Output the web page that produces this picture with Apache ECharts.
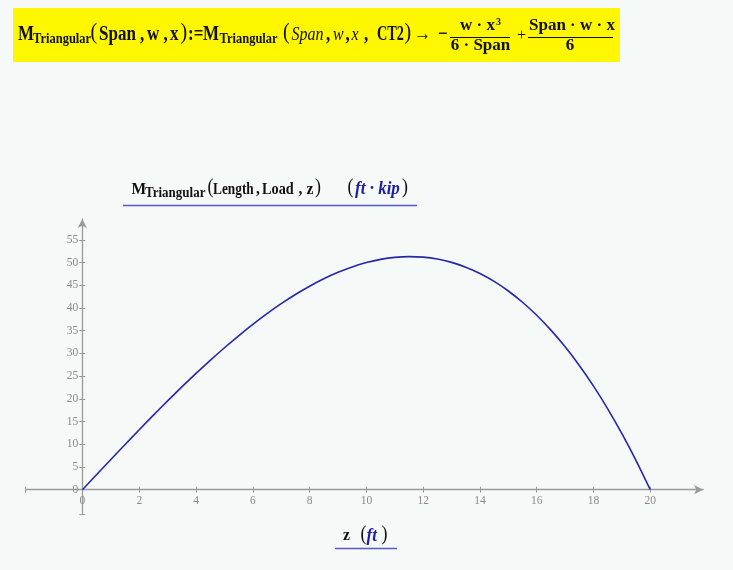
<!DOCTYPE html>
<html><head><meta charset="utf-8">
<script src="https://cdn.jsdelivr.net/npm/echarts@6/dist/echarts.min.js"></script>
<style>html,body{margin:0;padding:0;background:#f5f9f7}#c{width:733px;height:570px}</style>
</head><body><div id="c"></div>
<script>
// z in ft
const zValues = [0,0.5,1,1.5,2,2.5,3,3.5,4,4.5,5,5.5,6,6.5,7,7.5,8,8.5,9,9.5,10,10.5,11,11.5,12,12.5,13,13.5,14,14.5,15,15.5,16,16.5,17,17.5,18,18.5,19,19.5,20];
// M_Triangular (ft*kip)
const momentValues = [0,3.33,6.65,9.94,13.2,16.41,19.55,22.62,25.6,28.48,31.25,33.89,36.4,38.76,40.95,42.97,44.8,46.43,47.85,49.04,50,50.71,51.15,51.32,51.2,50.78,50.05,48.99,47.6,45.86,43.75,41.27,38.4,35.13,31.45,27.34,22.8,17.81,12.35,6.42,0];
const xTickValues = [-2,0,2,4,6,8,10,12,14,16,18,20];
const xLabelValues = [0,2,4,6,8,10,12,14,16,18,20];
const yTickValues = [-5.4,0,5,10,15,20,25,30,35,40,45,50,55];
const yLabelValues = [0,5,10,15,20,25,30,35,40,45,50,55];

const SERIF = '"Liberation Serif", "DejaVu Serif", serif';
const axisColor = '#9a9a9a';
const labelColor = '#8a8a8a';

const chart = echarts.init(document.getElementById('c'));
const xMin = -2, xMax = 21.86, yMin = -5.4, yMax = 59.6;

function xAxisDef(pos, main, offset) {
  return {
    type: 'value', min: xMin, max: xMax, position: pos, offset: offset,
    axisLine: { show: true, onZero: false,
      symbol: main ? ['none', 'arrow'] : ['none', 'none'], symbolSize: [7, 9],
      lineStyle: { color: axisColor, width: 1.3, opacity: main ? 1 : 0 } },
    axisTick: { show: true, customValues: xTickValues, length: 3, lineStyle: { color: axisColor, width: 1 } },
    axisLabel: { show: main, customValues: xLabelValues, margin: 5, color: labelColor, fontFamily: SERIF, fontSize: 11.5 },
    splitLine: { show: false }
  };
}
function yAxisDef(pos, main, offset) {
  return {
    type: 'value', min: yMin, max: yMax, position: pos, offset: offset,
    axisLine: { show: true, onZero: false,
      symbol: main ? ['none', 'arrow'] : ['none', 'none'], symbolSize: [7, 9],
      lineStyle: { color: axisColor, width: 1.3, opacity: main ? 1 : 0 } },
    axisTick: { show: true, customValues: yTickValues, length: 3, lineStyle: { color: axisColor, width: 1 } },
    axisLabel: { show: main, customValues: yLabelValues, margin: 4, color: labelColor, fontFamily: SERIF, fontSize: 11.5 },
    splitLine: { show: false }
  };
}

// text helper for formula pieces (positions are layout, not data)
function txt(x, y, text, o) {
  o = o || {};
  const fs = o.fs || 17;
  const font = (o.italic ? 'italic ' : '') + (o.normal ? '' : 'bold ') + fs + 'px ' + SERIF;
  return {
    type: 'text', x: x, y: y, scaleY: o.sy || 1, scaleX: o.sx || 1, originX: 0, originY: 0, z: 10,
    style: { text: text, font: font, fill: o.color || '#111', align: o.align || 'left', verticalAlign: 'middle' }
  };
}
const HS = 1.2;   // header vertical stretch
const hy = 35.0, hsub = 39.3, hpar = 32.7;
const TS = 1.13;  // title vertical stretch
const ty = 189.2, tsub = 193.2, tpar = 188;
const blue = '#1e1e9e';

const graphic = [
  { type: 'rect', shape: { x: 13, y: 8, width: 607, height: 54 }, style: { fill: '#fff700' }, z: 0 },
  // left side
  txt(18, hy, 'M', { sy: HS }),
  txt(33, hsub, 'Triangular', { fs: 12.5, sy: HS }),
  txt(90.5, hpar, '(', { fs: 20, sy: HS, normal: true }),
  txt(99, hy, 'Span', { sy: HS }),
  txt(140, hy, ',', { sy: HS }),
  txt(147, hy, 'w', { sy: HS }),
  txt(163.5, hy, ',', { sy: HS }),
  txt(170, hy, 'x', { sy: HS }),
  txt(180.5, hpar, ')', { fs: 20, sy: HS, normal: true }),
  txt(188, hy, ':=', { sy: HS }),
  txt(203, hy, 'M', { sy: HS }),
  txt(219.5, hsub, 'Triangular', { fs: 12.5, sy: HS }),
  txt(283, hpar, '(', { fs: 20, sy: HS, normal: true }),
  txt(291.5, hy, 'Span', { sy: HS, italic: true, normal: true, fs: 16 }),
  txt(326, hy, ',', { sy: HS }),
  txt(333, hy, 'w', { sy: HS, italic: true, normal: true, fs: 16 }),
  txt(345.5, hy, ',', { sy: HS }),
  txt(351.5, hy, 'x', { sy: HS, italic: true, normal: true, fs: 16 }),
  txt(364, hy, ',', { sy: HS }),
  txt(377, hy, 'CT2', { sy: HS, sx: 0.84 }),
  txt(404.5, hpar, ')', { fs: 20, sy: HS, normal: true }),
  txt(414, hy, '→', { fs: 17, sy: HS }),
  txt(438, hy, '−', { sy: HS }),
  // fraction 1
  txt(460, 26.1, 'w · x'),
  txt(496, 22, '3', { fs: 10 }),
  { type: 'line', shape: { x1: 450, y1: 37.5, x2: 510, y2: 37.5 }, style: { stroke: '#111', lineWidth: 1 }, z: 10 },
  txt(480.5, 46.1, '6 · Span', { align: 'center' }),
  txt(521.5, 35.6, '+', { fs: 16, normal: true, align: 'center' }),
  // fraction 2
  txt(572, 26.1, 'Span · w · x', { align: 'center' }),
  { type: 'line', shape: { x1: 528, y1: 37.5, x2: 613, y2: 37.5 }, style: { stroke: '#111', lineWidth: 1 }, z: 10 },
  txt(570, 46.1, '6', { align: 'center' }),

  // plot title
  txt(131.5, ty, 'M', { fs: 15.5, sy: TS }),
  txt(145, tsub, 'Triangular', { fs: 13, sy: TS }),
  txt(207.5, tpar, '(', { fs: 18, sy: TS, normal: true }),
  txt(213, ty, 'Length', { fs: 15.5, sy: TS, sx: 0.86 }),
  txt(256, ty, ',', { fs: 15.5, sy: TS }),
  txt(262, ty, 'Load', { fs: 15.5, sy: TS, sx: 0.92 }),
  txt(298.5, ty, ',', { fs: 15.5, sy: TS }),
  txt(306.5, ty, 'z', { fs: 15.5, sy: TS }),
  txt(315, tpar, ')', { fs: 18, sy: TS, normal: true }),
  txt(347.5, tpar, '(', { fs: 18, sy: TS, normal: true }),
  txt(355, ty, 'ft · kip', { fs: 17, sy: TS, italic: true, color: blue }),
  txt(402, tpar, ')', { fs: 18, sy: TS, normal: true }),
  { type: 'line', shape: { x1: 123, y1: 205.5, x2: 417, y2: 205.5 }, style: { stroke: '#5858c8', lineWidth: 1.6 }, z: 10 },

  // x axis title
  txt(343, 535.9, 'z', { fs: 15.5, sy: TS }),
  txt(360.5, 534.6, '(', { fs: 18, sy: TS, normal: true }),
  txt(366.5, 535.9, 'ft', { fs: 17, sy: TS, italic: true, color: blue }),
  txt(381.5, 534.6, ')', { fs: 18, sy: TS, normal: true }),
  { type: 'line', shape: { x1: 335, y1: 548.5, x2: 397, y2: 548.5 }, style: { stroke: '#5858c8', lineWidth: 1.6 }, z: 10 }
];

const option = {
  backgroundColor: '#f5f9f7',
  animation: false,
  grid: { left: 25.7, right: 29.9, top: 219, bottom: 55.8, containLabel: false, outerBoundsMode: 'none' },
  xAxis: [xAxisDef('bottom', true, -24.5), xAxisDef('top', false, -270.7)],
  yAxis: [yAxisDef('left', true, -56.6), yAxisDef('right', false, -620.8)],
  series: [{
    type: 'line', xAxisIndex: 0, yAxisIndex: 0,
    data: zValues.map((z, i) => [z, momentValues[i]]),
    showSymbol: false, smooth: 0.2,
    lineStyle: { color: '#2727a8', width: 1.6 }
  }],
  graphic: graphic
};
chart.setOption(option);
</script></body></html>
